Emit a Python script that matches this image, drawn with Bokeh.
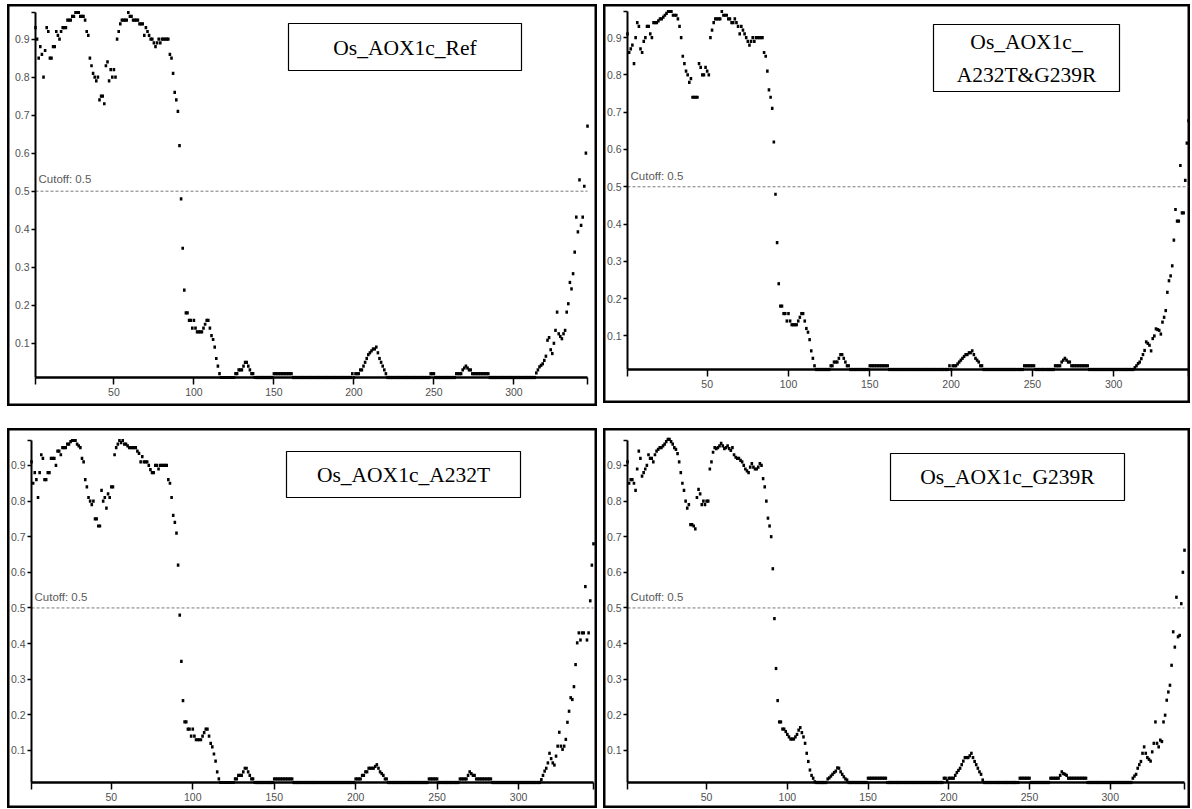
from bokeh.plotting import figure
from bokeh.models import LinearAxis, FixedTicker, NumeralTickFormatter, BoxAnnotation, Label, Range1d
from bokeh.layouts import row, column
from bokeh.embed import file_html
from bokeh.resources import INLINE

# ---------------- data ----------------
TITLES = [["Os_AOX1c_Ref"], ["Os_AOX1c_", "A232T&G239R"], ["Os_AOX1c_A232T"], ["Os_AOX1c_G239R"]]
CUTOFF = 0.5
X_TICKS = [50, 100, 150, 200, 250, 300]
Y_TICKS = [0.1, 0.2, 0.3, 0.4, 0.5, 0.6, 0.7, 0.8, 0.9]
Y_MIN = 0.01
Y_MAX = 0.97

REF = [
    0.93, 0.90, 0.85, 0.88, 0.86, 0.80, 0.87, 0.93, 0.92, 0.85,
    0.85, 0.88, 0.88, 0.92, 0.91, 0.90, 0.92, 0.93, 0.93, 0.93,
    0.95, 0.95, 0.95, 0.96, 0.96, 0.97, 0.97, 0.97, 0.96, 0.96,
    0.96, 0.95, 0.92, 0.91, 0.85, 0.83, 0.81, 0.80, 0.79, 0.80,
    0.74, 0.75, 0.75, 0.73, 0.83, 0.84, 0.79, 0.82, 0.80, 0.82,
    0.80, 0.90, 0.92, 0.94, 0.95, 0.95, 0.95, 0.95, 0.97, 0.96,
    0.96, 0.95, 0.95, 0.95, 0.95, 0.94, 0.94, 0.94, 0.91, 0.93,
    0.92, 0.91, 0.90, 0.90, 0.89, 0.88, 0.89, 0.90, 0.89, 0.90,
    0.90, 0.90, 0.90, 0.90, 0.86, 0.85, 0.81, 0.76, 0.74, 0.71,
    0.62, 0.48, 0.35, 0.24, 0.18, 0.18, 0.16, 0.16, 0.14, 0.16,
    0.14, 0.13, 0.13, 0.13, 0.13, 0.14, 0.15, 0.16, 0.16, 0.14,
    0.12, 0.11, 0.09, 0.06, 0.04, 0.02, 0.01, 0.01, 0.01, 0.01,
    0.01, 0.01, 0.01, 0.01, 0.01, 0.02, 0.02, 0.03, 0.03, 0.03,
    0.04, 0.05, 0.05, 0.04, 0.03, 0.02, 0.02, 0.01, 0.01, 0.01,
    0.01, 0.01, 0.01, 0.01, 0.01, 0.01, 0.01, 0.01, 0.01, 0.02,
    0.02, 0.02, 0.02, 0.02, 0.02, 0.02, 0.02, 0.02, 0.02, 0.02,
    0.02, 0.01, 0.01, 0.01, 0.01, 0.01, 0.01, 0.01, 0.01, 0.01,
    0.01, 0.01, 0.01, 0.01, 0.01, 0.01, 0.01, 0.01, 0.01, 0.01,
    0.01, 0.01, 0.01, 0.01, 0.01, 0.01, 0.01, 0.01, 0.01, 0.01,
    0.01, 0.01, 0.01, 0.01, 0.01, 0.01, 0.01, 0.01, 0.02, 0.01,
    0.02, 0.02, 0.02, 0.03, 0.03, 0.04, 0.05, 0.06, 0.07, 0.075,
    0.08, 0.085, 0.085, 0.09, 0.075, 0.06, 0.05, 0.04, 0.03, 0.02,
    0.01, 0.01, 0.01, 0.01, 0.01, 0.01, 0.01, 0.01, 0.01, 0.01,
    0.01, 0.01, 0.01, 0.01, 0.01, 0.01, 0.01, 0.01, 0.01, 0.01,
    0.01, 0.01, 0.01, 0.01, 0.01, 0.01, 0.01, 0.02, 0.02, 0.02,
    0.01, 0.01, 0.01, 0.01, 0.01, 0.01, 0.01, 0.01, 0.01, 0.01,
    0.01, 0.01, 0.01, 0.02, 0.02, 0.02, 0.02, 0.03, 0.035, 0.04,
    0.035, 0.03, 0.03, 0.02, 0.02, 0.02, 0.02, 0.02, 0.02, 0.02,
    0.02, 0.02, 0.02, 0.02, 0.01, 0.01, 0.01, 0.01, 0.01, 0.01,
    0.01, 0.01, 0.01, 0.01, 0.01, 0.01, 0.01, 0.01, 0.01, 0.01,
    0.01, 0.01, 0.01, 0.01, 0.01, 0.01, 0.01, 0.01, 0.01, 0.01,
    0.01, 0.01, 0.01, 0.022, 0.03, 0.038, 0.042, 0.046, 0.055, 0.066,
    0.108, 0.115, 0.083, 0.073, 0.10, 0.134, 0.182, 0.125, 0.118, 0.112,
    0.125, 0.134, 0.182, 0.204, 0.26, 0.243, 0.283, 0.34, 0.432, 0.393,
    0.53, 0.41, 0.432, 0.513, 0.60, 0.671,
]

A232T_G239R = [
    0.91, 0.86, 0.87, 0.88, 0.83, 0.90, 0.94, 0.93, 0.87, 0.86,
    0.89, 0.90, 0.93, 0.93, 0.91, 0.90, 0.94, 0.94, 0.94, 0.945,
    0.95, 0.95, 0.955, 0.96, 0.965, 0.97, 0.97, 0.97, 0.96, 0.96,
    0.96, 0.95, 0.93, 0.90, 0.85, 0.83, 0.81, 0.80, 0.78, 0.79,
    0.74, 0.74, 0.74, 0.74, 0.83, 0.82, 0.80, 0.80, 0.82, 0.81,
    0.80, 0.90, 0.92, 0.94, 0.95, 0.95, 0.95, 0.95, 0.97, 0.96,
    0.96, 0.96, 0.95, 0.95, 0.94, 0.94, 0.95, 0.94, 0.93, 0.91,
    0.93, 0.92, 0.91, 0.90, 0.89, 0.88, 0.89, 0.90, 0.89, 0.90,
    0.90, 0.90, 0.90, 0.90, 0.86, 0.85, 0.81, 0.76, 0.74, 0.71,
    0.62, 0.48, 0.35, 0.24, 0.18, 0.18, 0.16, 0.16, 0.14, 0.16,
    0.14, 0.13, 0.13, 0.13, 0.13, 0.14, 0.15, 0.16, 0.16, 0.14,
    0.12, 0.11, 0.09, 0.06, 0.04, 0.02, 0.01, 0.01, 0.01, 0.01,
    0.01, 0.01, 0.01, 0.01, 0.01, 0.02, 0.02, 0.03, 0.03, 0.03,
    0.04, 0.05, 0.05, 0.04, 0.03, 0.02, 0.02, 0.01, 0.01, 0.01,
    0.01, 0.01, 0.01, 0.01, 0.01, 0.01, 0.01, 0.01, 0.01, 0.02,
    0.02, 0.02, 0.02, 0.02, 0.02, 0.02, 0.02, 0.02, 0.02, 0.02,
    0.02, 0.01, 0.01, 0.01, 0.01, 0.01, 0.01, 0.01, 0.01, 0.01,
    0.01, 0.01, 0.01, 0.01, 0.01, 0.01, 0.01, 0.01, 0.01, 0.01,
    0.01, 0.01, 0.01, 0.01, 0.01, 0.01, 0.01, 0.01, 0.01, 0.01,
    0.01, 0.01, 0.01, 0.01, 0.01, 0.01, 0.01, 0.01, 0.02, 0.01,
    0.02, 0.02, 0.02, 0.025, 0.03, 0.035, 0.04, 0.045, 0.05, 0.05,
    0.055, 0.055, 0.06, 0.05, 0.04, 0.035, 0.03, 0.02, 0.02, 0.01,
    0.01, 0.01, 0.01, 0.01, 0.01, 0.01, 0.01, 0.01, 0.01, 0.01,
    0.01, 0.01, 0.01, 0.01, 0.01, 0.01, 0.01, 0.01, 0.01, 0.01,
    0.01, 0.01, 0.01, 0.01, 0.02, 0.02, 0.02, 0.02, 0.02, 0.02,
    0.02, 0.01, 0.01, 0.01, 0.01, 0.01, 0.01, 0.01, 0.01, 0.01,
    0.01, 0.01, 0.01, 0.02, 0.02, 0.02, 0.02, 0.03, 0.035, 0.04,
    0.035, 0.03, 0.03, 0.02, 0.02, 0.02, 0.02, 0.02, 0.02, 0.02,
    0.02, 0.02, 0.02, 0.02, 0.01, 0.01, 0.01, 0.01, 0.01, 0.01,
    0.01, 0.01, 0.01, 0.01, 0.01, 0.01, 0.01, 0.01, 0.01, 0.01,
    0.01, 0.01, 0.01, 0.01, 0.01, 0.01, 0.01, 0.01, 0.01, 0.01,
    0.01, 0.01, 0.015, 0.02, 0.026, 0.03, 0.039, 0.05, 0.061, 0.084,
    0.08, 0.075, 0.06, 0.093, 0.10, 0.119, 0.117, 0.115, 0.105, 0.137,
    0.15, 0.168, 0.217, 0.248, 0.261, 0.288, 0.357, 0.439, 0.408, 0.408,
    0.557, 0.43, 0.43, 0.517, 0.617, 0.677,
]

A232T = [
    0.91, 0.85, 0.88, 0.86, 0.81, 0.88, 0.93, 0.92, 0.86, 0.86,
    0.88, 0.88, 0.92, 0.92, 0.92, 0.90, 0.94, 0.94, 0.93, 0.95,
    0.95, 0.95, 0.96, 0.96, 0.967, 0.97, 0.97, 0.97, 0.96, 0.955,
    0.95, 0.92, 0.91, 0.86, 0.84, 0.81, 0.80, 0.79, 0.80, 0.75,
    0.75, 0.73, 0.73, 0.83, 0.80, 0.81, 0.78, 0.82, 0.81, 0.84,
    0.84, 0.93, 0.95, 0.96, 0.97, 0.964, 0.97, 0.96, 0.96, 0.955,
    0.95, 0.95, 0.95, 0.95, 0.95, 0.94, 0.934, 0.91, 0.925, 0.91,
    0.91, 0.91, 0.90, 0.888, 0.88, 0.88, 0.90, 0.90, 0.89, 0.90,
    0.90, 0.90, 0.90, 0.90, 0.86, 0.85, 0.81, 0.76, 0.74, 0.71,
    0.62, 0.48, 0.35, 0.24, 0.18, 0.18, 0.16, 0.16, 0.14, 0.16,
    0.14, 0.13, 0.13, 0.13, 0.13, 0.14, 0.15, 0.16, 0.16, 0.14,
    0.12, 0.11, 0.09, 0.07, 0.04, 0.02, 0.01, 0.01, 0.01, 0.01,
    0.01, 0.01, 0.01, 0.01, 0.01, 0.02, 0.02, 0.03, 0.03, 0.03,
    0.04, 0.05, 0.05, 0.04, 0.03, 0.02, 0.02, 0.01, 0.01, 0.01,
    0.01, 0.01, 0.01, 0.01, 0.01, 0.01, 0.01, 0.01, 0.01, 0.02,
    0.02, 0.02, 0.02, 0.02, 0.02, 0.02, 0.02, 0.02, 0.02, 0.02,
    0.02, 0.01, 0.01, 0.01, 0.01, 0.01, 0.01, 0.01, 0.01, 0.01,
    0.01, 0.01, 0.01, 0.01, 0.01, 0.01, 0.01, 0.01, 0.01, 0.01,
    0.01, 0.01, 0.01, 0.01, 0.01, 0.01, 0.01, 0.01, 0.01, 0.01,
    0.01, 0.01, 0.01, 0.01, 0.01, 0.01, 0.01, 0.01, 0.01, 0.02,
    0.02, 0.02, 0.02, 0.03, 0.03, 0.04, 0.04, 0.05, 0.05, 0.05,
    0.05, 0.055, 0.06, 0.05, 0.04, 0.035, 0.03, 0.02, 0.02, 0.01,
    0.01, 0.01, 0.01, 0.01, 0.01, 0.01, 0.01, 0.01, 0.01, 0.01,
    0.01, 0.01, 0.01, 0.01, 0.01, 0.01, 0.01, 0.01, 0.01, 0.01,
    0.01, 0.01, 0.01, 0.01, 0.02, 0.02, 0.02, 0.02, 0.02, 0.02,
    0.01, 0.01, 0.01, 0.01, 0.01, 0.01, 0.01, 0.01, 0.01, 0.01,
    0.01, 0.01, 0.01, 0.02, 0.02, 0.02, 0.02, 0.02, 0.03, 0.04,
    0.035, 0.03, 0.03, 0.02, 0.02, 0.02, 0.02, 0.02, 0.02, 0.02,
    0.02, 0.02, 0.02, 0.01, 0.01, 0.01, 0.01, 0.01, 0.01, 0.01,
    0.01, 0.01, 0.01, 0.01, 0.01, 0.01, 0.01, 0.01, 0.01, 0.01,
    0.01, 0.01, 0.01, 0.01, 0.01, 0.01, 0.01, 0.01, 0.01, 0.01,
    0.01, 0.01, 0.01, 0.018, 0.03, 0.042, 0.05, 0.065, 0.092, 0.077,
    0.065, 0.059, 0.084, 0.112, 0.151, 0.112, 0.103, 0.112, 0.131, 0.179,
    0.21, 0.248, 0.243, 0.279, 0.341, 0.402, 0.43, 0.41, 0.43, 0.43,
    0.56, 0.41, 0.43, 0.52, 0.62, 0.68,
]

G239R = [
    0.91, 0.85, 0.86, 0.86, 0.85, 0.83, 0.89, 0.94, 0.92, 0.87,
    0.88, 0.89, 0.90, 0.93, 0.92, 0.92, 0.91, 0.93, 0.94, 0.945,
    0.95, 0.95, 0.955, 0.96, 0.967, 0.973, 0.973, 0.967, 0.96, 0.95,
    0.945, 0.933, 0.91, 0.88, 0.85, 0.83, 0.80, 0.78, 0.79, 0.734,
    0.734, 0.73, 0.722, 0.81, 0.833, 0.82, 0.79, 0.80, 0.79, 0.80,
    0.80, 0.89, 0.91, 0.937, 0.95, 0.947, 0.95, 0.955, 0.962, 0.955,
    0.947, 0.95, 0.955, 0.947, 0.942, 0.95, 0.93, 0.923, 0.92, 0.92,
    0.914, 0.91, 0.90, 0.89, 0.885, 0.88, 0.895, 0.905, 0.895, 0.89,
    0.89, 0.895, 0.905, 0.90, 0.863, 0.84, 0.80, 0.752, 0.73, 0.70,
    0.61, 0.47, 0.33, 0.24, 0.18, 0.18, 0.16, 0.16, 0.153, 0.145,
    0.138, 0.132, 0.132, 0.132, 0.138, 0.145, 0.157, 0.164, 0.15, 0.138,
    0.12, 0.092, 0.069, 0.045, 0.03, 0.022, 0.012, 0.01, 0.01, 0.01,
    0.01, 0.01, 0.01, 0.01, 0.02, 0.023, 0.028, 0.033, 0.038, 0.042,
    0.051, 0.05, 0.04, 0.033, 0.026, 0.02, 0.017, 0.01, 0.01, 0.01,
    0.01, 0.01, 0.01, 0.01, 0.01, 0.01, 0.01, 0.01, 0.01, 0.022,
    0.022, 0.022, 0.022, 0.022, 0.022, 0.022, 0.022, 0.022, 0.022, 0.022,
    0.022, 0.01, 0.01, 0.01, 0.01, 0.01, 0.01, 0.01, 0.01, 0.01,
    0.01, 0.01, 0.01, 0.01, 0.01, 0.01, 0.01, 0.01, 0.01, 0.01,
    0.01, 0.01, 0.01, 0.01, 0.01, 0.01, 0.01, 0.01, 0.01, 0.01,
    0.01, 0.01, 0.01, 0.01, 0.01, 0.01, 0.022, 0.022, 0.015, 0.022,
    0.022, 0.022, 0.022, 0.03, 0.038, 0.044, 0.05, 0.06, 0.07, 0.08,
    0.08, 0.08, 0.085, 0.092, 0.08, 0.069, 0.06, 0.05, 0.04, 0.033,
    0.017, 0.01, 0.01, 0.01, 0.01, 0.01, 0.01, 0.01, 0.01, 0.01,
    0.01, 0.01, 0.01, 0.01, 0.01, 0.01, 0.01, 0.01, 0.01, 0.01,
    0.01, 0.01, 0.01, 0.022, 0.022, 0.022, 0.022, 0.022, 0.022, 0.022,
    0.01, 0.01, 0.01, 0.01, 0.01, 0.01, 0.01, 0.01, 0.01, 0.01,
    0.01, 0.01, 0.022, 0.022, 0.022, 0.022, 0.022, 0.022, 0.03, 0.04,
    0.035, 0.033, 0.03, 0.022, 0.022, 0.022, 0.022, 0.022, 0.022, 0.022,
    0.022, 0.022, 0.022, 0.022, 0.022, 0.01, 0.01, 0.01, 0.01, 0.01,
    0.01, 0.01, 0.01, 0.01, 0.01, 0.01, 0.01, 0.01, 0.01, 0.01,
    0.01, 0.01, 0.01, 0.01, 0.01, 0.01, 0.01, 0.01, 0.01, 0.01,
    0.01, 0.01, 0.01, 0.022, 0.028, 0.033, 0.05, 0.06, 0.069, 0.092,
    0.11, 0.092, 0.08, 0.075, 0.07, 0.096, 0.12, 0.18, 0.12, 0.11,
    0.129, 0.125, 0.18, 0.199, 0.241, 0.264, 0.283, 0.339, 0.433, 0.39,
    0.53, 0.419, 0.423, 0.512, 0.60, 0.662,
]

SERIES = [REF, A232T_G239R, A232T, G239R]

# ---------------- layout / style ----------------
NARROW = "'Liberation Sans Narrow', 'Arial Narrow', 'Liberation Sans', sans-serif"
SERIF = "'Liberation Serif', 'Times New Roman', serif"

# per panel: size, axis pixel positions, title box (local px), title line centres (local px)
GEOMS = [
    dict(W=590, H=402, L=28, R=580, T=8, B=373, box=(281, 514, 19, 66), mid=[43], cut=12),
    dict(W=587, H=399, L=24, R=585, T=7, B=365, box=(330, 516, 20, 87), mid=[37, 70], cut=11),
    dict(W=590, H=380, L=24, R=586, T=12, B=354, box=(279, 513, 23, 69), mid=[46], cut=11),
    dict(W=587, H=380, L=24, R=581, T=12, B=354, box=(287, 521, 25, 72), mid=[48], cut=11),
]


def make_panel(values, title_lines, g):
    n = len(values)
    xs = list(range(1, n + 1))
    W, H = g["W"], g["H"]
    sx = (g["R"] - g["L"]) / (n - 1)
    x0 = 1 - g["L"] / sx
    x1 = x0 + W / sx
    sy = (g["B"] - g["T"]) / (Y_MAX - Y_MIN)
    y1 = Y_MAX + g["T"] / sy
    y0 = y1 - H / sy

    def px_x(px):
        return x0 + px / sx

    def px_y(py):
        return y1 - py / sy

    p = figure(width=W, height=H, x_range=Range1d(x0, x1), y_range=Range1d(y0, y1),
               x_axis_type=None, y_axis_type=None, toolbar_location=None,
               output_backend="svg", min_border=0)
    p.outline_line_color = "black"
    p.outline_line_width = 4
    p.background_fill_color = "white"
    p.border_fill_color = "white"

    # cutoff line and label
    p.line(x=[1, n], y=[CUTOFF, CUTOFF], line_color="#7a7a7a", line_width=1, line_dash="3 2")
    p.add_layout(Label(x=1 + 3 / sx, y=CUTOFF + g["cut"] / sy, text=f"Cutoff: {CUTOFF}",
                       text_font=NARROW, text_font_size="11.5px", text_color="#5a5a5a",
                       text_baseline="middle", text_align="left"))

    # data points
    p.rect(x=xs, y=values, width=2.6, height=3.2, width_units="screen", height_units="screen",
           fill_color="black", line_color=None)

    # axes
    xa = LinearAxis(fixed_location=Y_MIN, bounds=(1, n),
                    ticker=FixedTicker(ticks=[1] + X_TICKS + [n]),
                    major_label_overrides={1: "", n: ""})
    xa.axis_line_width = 2.5
    xa.axis_line_color = "black"
    xa.major_tick_out = 7
    xa.major_tick_in = 0
    xa.minor_tick_out = 0
    xa.minor_tick_in = 0
    xa.major_tick_line_width = 1.5
    xa.major_label_text_font = NARROW
    xa.major_label_text_font_size = "10.5px"
    xa.major_label_text_color = "#505050"
    xa.major_label_standoff = 3
    p.add_layout(xa, "below")

    ya = LinearAxis(fixed_location=1, bounds=(Y_MIN, Y_MAX),
                    ticker=FixedTicker(ticks=Y_TICKS + [Y_MAX]),
                    formatter=NumeralTickFormatter(format="0.0"),
                    major_label_overrides={Y_MAX: ""})
    ya.axis_line_width = 2
    ya.axis_line_color = "black"
    ya.major_tick_out = 4
    ya.major_tick_in = 0
    ya.minor_tick_out = 0
    ya.minor_tick_in = 0
    ya.major_tick_line_width = 1.5
    ya.major_label_text_font = NARROW
    ya.major_label_text_font_size = "10.5px"
    ya.major_label_text_color = "#505050"
    ya.major_label_standoff = 2
    p.add_layout(ya, "left")

    # title box
    bx0, bx1, by0, by1 = g["box"]
    p.add_layout(BoxAnnotation(left=px_x(bx0), right=px_x(bx1), top=px_y(by0), bottom=px_y(by1),
                               fill_color="white", fill_alpha=1.0, line_color="black",
                               line_alpha=1.0, line_width=1.2))
    cx = px_x((bx0 + bx1) / 2)
    for line, mid in zip(title_lines, g["mid"]):
        p.add_layout(Label(x=cx, y=px_y(mid), text=line, text_font=SERIF, text_font_size="21.5px",
                           text_color="black", text_align="center", text_baseline="middle"))
    return p


panels = [make_panel(v, t, g) for v, t, g in zip(SERIES, TITLES, GEOMS)]
layout = column(row(panels[0], panels[1], spacing=6),
                row(panels[2], panels[3], spacing=6),
                spacing=22, margin=(4, 0, 0, 7))

open("out.html", "w").write(file_html(layout, INLINE))
